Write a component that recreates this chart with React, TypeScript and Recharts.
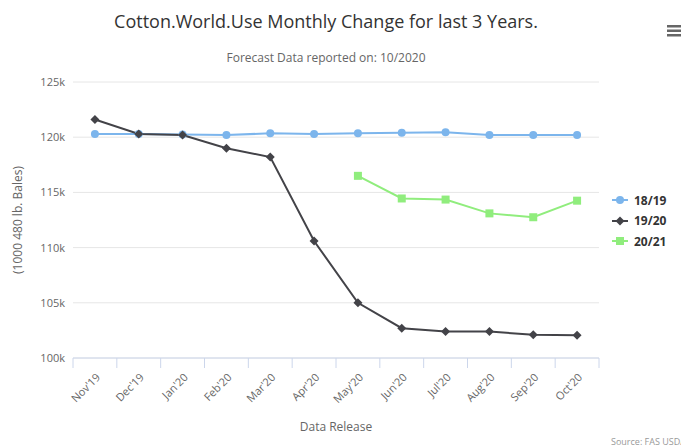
import React from 'react';
import { LineChart, Line, XAxis, YAxis, CartesianGrid } from 'recharts';

const categories = ["Nov'19", "Dec'19", "Jan'20", "Feb'20", "Mar'20", "Apr'20", "May'20", "Jun'20", "Jul'20", "Aug'20", "Sep'20", "Oct'20"];
const s1819 = [120.3, 120.3, 120.25, 120.2, 120.35, 120.3, 120.35, 120.4, 120.45, 120.2, 120.2, 120.2];
const s1920 = [121.6, 120.3, 120.2, 119.0, 118.2, 110.6, 105.0, 102.7, 102.4, 102.4, 102.1, 102.05];
const s2021: (number | null)[] = [null, null, null, null, null, null, 116.5, 114.45, 114.35, 113.1, 112.75, 114.25];
const yTicks = [100000, 105000, 110000, 115000, 120000, 125000];
const seriesNames = ['18/19', '19/20', '20/21'];
const seriesColors = ['#7cb5ec', '#434348', '#90ed7d'];

const data = categories.map((c, i) => ({
  cat: c,
  a: s1819[i] * 1000,
  b: s1920[i] * 1000,
  c: s2021[i] == null ? null : (s2021[i] as number) * 1000,
}));

const FONT = "'Open Sans', 'DejaVu Sans', sans-serif";

const Circle = (props: any) => {
  const { cx, cy } = props;
  if (cx == null || cy == null || props.value == null) return null;
  return <circle cx={cx} cy={cy} r={4} fill={seriesColors[0]} />;
};
const Diamond = (props: any) => {
  const { cx, cy } = props;
  if (cx == null || cy == null || props.value == null) return null;
  const r = 4.5;
  return <path d={`M${cx},${cy - r}L${cx + r},${cy}L${cx},${cy + r}L${cx - r},${cy}Z`} fill={seriesColors[1]} />;
};
const Square = (props: any) => {
  const { cx, cy } = props;
  if (cx == null || cy == null || props.value == null) return null;
  return <rect x={cx - 4} y={cy - 4} width={8} height={8} fill={seriesColors[2]} />;
};

const XTick = (props: any) => {
  const { x, y, payload, index } = props;
  const half = payload && payload.offset ? payload.offset : 21.9;
  return (
    <g>
      <line x1={x - half} y1={y - 8} x2={x - half} y2={y + 2} stroke="#ccd6eb" />
      {index === categories.length - 1 && (
        <line x1={x + half} y1={y - 8} x2={x + half} y2={y + 2} stroke="#ccd6eb" />
      )}
      <text x={x + 6} y={y + 12} textAnchor="end" fill="#666" fontSize={11} fontFamily={FONT}
        transform={`rotate(-45 ${x + 6} ${y + 12})`}>{payload.value}</text>
    </g>
  );
};

const LegendBox = () => (
  <div style={{ position: 'absolute', left: 610, top: 190, fontFamily: FONT }}>
    {seriesNames.map((n, i) => (
      <div key={n} style={{ display: 'flex', alignItems: 'center', height: 20.5 }}>
        <svg width={20} height={12} style={{ marginRight: 4 }}>
          <line x1={2} y1={6} x2={18} y2={6} stroke={seriesColors[i]} strokeWidth={2} />
          {i === 0 && <circle cx={10} cy={6} r={4} fill={seriesColors[0]} />}
          {i === 1 && <path d="M10,1.5L14.5,6L10,10.5L5.5,6Z" fill={seriesColors[1]} />}
          {i === 2 && <rect x={6} y={2} width={8} height={8} fill={seriesColors[2]} />}
        </svg>
        <span style={{ fontSize: 12, fontWeight: 'bold', color: '#333' }}>{n}</span>
      </div>
    ))}
  </div>
);

export default function App() {
  return (
    <div style={{ position: 'absolute', left: 0, top: 0, width: 681, height: 448, background: '#fff', overflow: 'hidden' }}>
      <div style={{ position: 'absolute', left: 0, width: 652, top: 9, textAlign: 'center', fontFamily: FONT, fontSize: 18, color: '#333' }}>
        Cotton.World.Use Monthly Change for last 3 Years.
      </div>
      <div style={{ position: 'absolute', left: 0, width: 652, top: 49, textAlign: 'center', fontFamily: FONT, fontSize: 12, color: '#666' }}>
        Forecast Data reported on: 10/2020
      </div>
      <svg style={{ position: 'absolute', left: 667, top: 24 }} width={14} height={14}>
        <rect x={0} y={1} width={14} height={2.5} fill="#666" />
        <rect x={0} y={5.5} width={14} height={2.5} fill="#666" />
        <rect x={0} y={10} width={14} height={2.5} fill="#666" />
      </svg>
      <LineChart width={681} height={448} data={data} margin={{ top: 82, right: 82, left: 0, bottom: 0 }}>
        <CartesianGrid vertical={false} stroke="#e6e6e6" />
        <XAxis dataKey="cat" scale="band" height={90} stroke="#ccd6eb" tickLine={false} tick={<XTick />} interval={0}
          label={{ value: 'Data Release', position: 'insideBottom', offset: 17, fill: '#666', fontSize: 12, fontFamily: FONT }} />
        <YAxis width={73} domain={[100000, 125000]} ticks={yTicks} axisLine={false} tickLine={false}
          tickFormatter={(v: number) => `${v / 1000}k`} tick={{ fill: '#666', fontSize: 11, fontFamily: FONT }}
          label={{ value: '(1000 480 lb. Bales)', angle: -90, position: 'insideLeft', offset: 18, fill: '#666', fontSize: 12, fontFamily: FONT, style: { textAnchor: 'middle' } }} />
        <Line dataKey="a" name="18/19" stroke={seriesColors[0]} strokeWidth={2} dot={<Circle />} activeDot={false} isAnimationActive={false} />
        <Line dataKey="b" name="19/20" stroke={seriesColors[1]} strokeWidth={2} dot={<Diamond />} activeDot={false} isAnimationActive={false} />
        <Line dataKey="c" name="20/21" stroke={seriesColors[2]} strokeWidth={2} dot={<Square />} activeDot={false} isAnimationActive={false} />
      </LineChart>
      <LegendBox />
      <div style={{ position: 'absolute', left: 611, top: 435, fontFamily: FONT, fontSize: 9, color: '#999', whiteSpace: 'nowrap' }}>Source: FAS USDA</div>
    </div>
  );
}
